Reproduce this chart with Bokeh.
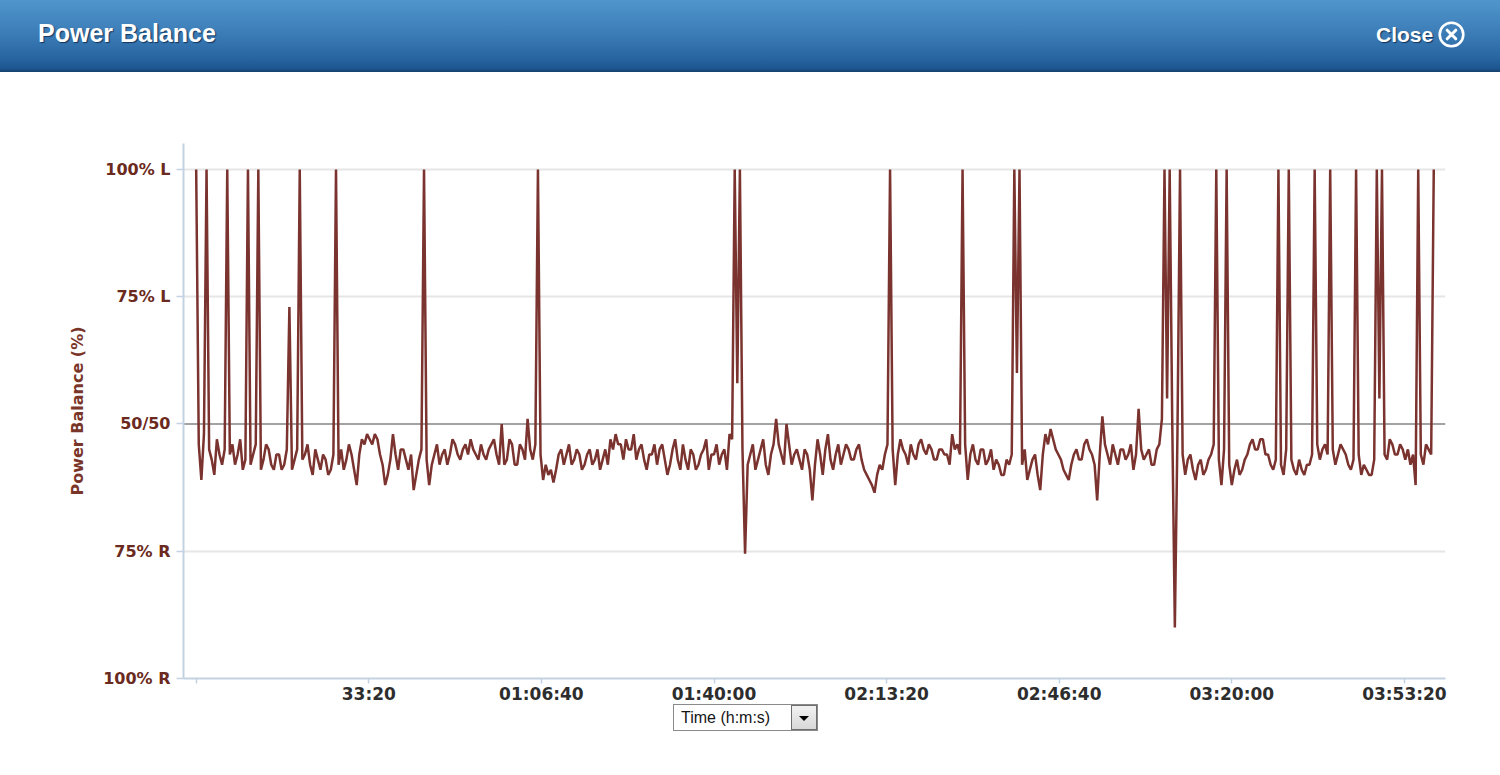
from bokeh.plotting import figure
from bokeh.layouts import column
from bokeh.models import Range1d, FixedTicker, Span, ColumnDataSource, Div
from bokeh.embed import file_html
from bokeh.resources import INLINE

# ---------------- data ----------------
sample_seconds = 30
# power balance expressed as % left (100 = 100% L, 50 = 50/50, 0 = 100% R)
balance_left_pct = [
    100, 46, 39, 48, 100, 45, 43, 40, 47, 44, 42, 45, 100, 44, 46, 42, 44, 47, 41, 43,
    100, 42, 44, 46, 100, 41, 43, 46, 45, 42, 41, 44, 44, 41, 42, 45, 73, 41, 43, 45,
    100, 43, 44, 46, 42, 40, 45, 43, 41, 44, 43, 40, 41, 44, 100, 42, 45, 41, 43, 46,
    44, 41, 38, 44, 47, 46, 48, 47, 46, 48, 47, 44, 42, 38, 40, 43, 48, 44, 41, 45,
    45, 43, 41, 44, 37, 40, 43, 45, 100, 43, 38, 42, 44, 46, 42, 44, 45, 42, 44, 47,
    46, 44, 43, 45, 46, 44, 47, 45, 44, 43, 46, 44, 43, 45, 46, 47, 44, 42, 50, 42,
    43, 47, 46, 42, 42, 46, 45, 43, 51, 45, 43, 46, 100, 44, 39, 42, 40, 41, 38.5, 41,
    44, 45, 42, 44, 46, 42, 43, 45, 44, 41, 42, 44, 45, 42, 43, 45, 41, 43, 45, 42,
    47, 45, 48, 46, 46, 43, 47, 45, 45, 48, 43, 45, 46, 43, 41, 44, 44, 46, 42, 45,
    46, 43, 40, 42, 45, 47, 43, 41, 46, 43, 41, 45, 44, 41, 42, 44, 45, 47, 41, 44,
    44, 46, 42, 44, 45, 41, 48, 47, 100, 58, 100, 45, 24.5, 42, 44, 46, 41, 43, 45, 47,
    42, 40, 44, 46, 51, 46, 44, 42, 50, 46, 42, 44, 45, 43, 41, 45, 44, 41, 35, 42,
    47, 44, 40, 45, 48, 43, 41, 44, 46, 42, 44, 46, 45, 43, 43, 45, 46, 43, 41, 40,
    39, 38, 36.5, 40, 42, 41, 44, 46, 100, 45, 38, 44, 47, 45, 44, 42, 46, 44, 43, 46,
    47, 45, 44, 46, 45, 43, 43, 45, 45, 44, 44, 42, 48, 45, 46, 44, 100, 46, 39, 44,
    46, 43, 42, 45, 45, 42, 43, 45, 41, 43, 42, 40, 40, 43, 42, 44, 100, 60, 100, 42,
    45, 39, 41, 43, 44, 40, 37, 44, 48, 46, 49, 47, 45, 44, 43, 41, 40, 39, 42, 44,
    45, 43, 43, 46, 47, 45, 44, 42, 35, 44, 51.5, 46, 44, 42, 46, 44, 42, 45, 45, 43,
    44, 46, 41, 44, 53, 45, 43, 44, 45, 42, 42, 45, 46, 51, 100, 55, 100, 50, 10, 48,
    100, 44, 40, 43, 44, 41, 39, 42, 43, 40, 41, 43, 44, 46, 100, 43, 38, 45, 100, 42,
    38, 41, 43, 40, 41, 43, 44, 46, 47, 45, 45, 47, 47, 44, 44, 42, 41, 43, 100, 42,
    40, 45, 100, 43, 41, 40, 43, 41, 40, 42, 42, 44, 100, 46, 43, 45, 46, 44, 100, 45,
    42, 44, 46, 45, 44, 42, 41, 43, 100, 44, 40, 42, 41, 40, 40, 43, 100, 55, 100, 44,
    43, 47, 46, 44, 44, 46, 45, 43, 45, 42, 44, 38, 100, 44, 42, 46, 45, 44, 100,
]
times = [i * sample_seconds for i in range(len(balance_left_pct))]

x_tick_values = [0, 2000, 4000, 6000, 8000, 10000, 12000, 14000]
x_tick_labels = ["", "33:20", "01:06:40", "01:40:00", "02:13:20",
                 "02:46:40", "03:20:00", "03:53:20"]
y_tick_values = [0, 25, 50, 75, 100]
y_tick_labels = ["100% R", "75% R", "50/50", "75% L", "100% L"]

title_text = "Power Balance"
close_text = "Close"
y_axis_title = "Power Balance (%)"
x_selector_text = "Time (h:m:s)"

W = 1500

# ---------------- header bar ----------------
header_html = f"""
<div style="position:relative;width:{W}px;height:72px;overflow:hidden;
 background:linear-gradient(to bottom,#5096cc 0%,#3f80ba 40%,#2866a2 80%,#1d5690 95%,#163f6c 100%);
 font-family:'Liberation Sans',Arial,sans-serif;font-weight:bold;color:#ffffff;">
  <span style="position:absolute;left:38px;top:21px;font-size:25px;line-height:25px;
   white-space:nowrap;text-shadow:1px 1px 1px rgba(12,40,78,0.85);">{title_text}</span>
  <span style="position:absolute;left:1376px;top:24px;font-size:21px;line-height:21px;
   white-space:nowrap;text-shadow:1px 1px 1px rgba(12,40,78,0.85);">{close_text}</span>
  <svg style="position:absolute;left:1438px;top:21px;" width="27" height="27">
    <circle cx="13.5" cy="13.5" r="11.8" fill="none" stroke="#ffffff" stroke-width="2.6"/>
    <path d="M9.2 9.2 L17.8 17.8 M17.8 9.2 L9.2 17.8" stroke="#ffffff" stroke-width="3"
     stroke-linecap="round"/>
  </svg>
</div>"""
header = Div(text=header_html, width=W, height=72, margin=0)

# ---------------- main chart ----------------
p = figure(width=W, height=635, x_range=Range1d(-147, 14476), y_range=Range1d(0, 105.1),
           output_backend="svg", toolbar_location=None, title=None,
           min_border_left=183, min_border_right=W - 1445, min_border_top=71,
           min_border_bottom=29)
p.outline_line_color = None
p.background_fill_color = "white"
p.border_fill_color = "white"

axis_col = "#c3d2e2"
p.xaxis.ticker = FixedTicker(ticks=x_tick_values)
p.xaxis.major_label_overrides = dict(zip(x_tick_values, x_tick_labels))
p.xaxis.major_label_text_font = "DejaVu Sans"
p.xaxis.major_label_text_font_style = "bold"
p.xaxis.major_label_text_font_size = "17px"
p.xaxis.major_label_text_color = "#2d2d2d"
p.xaxis.major_label_standoff = 0
p.xaxis.major_tick_out = 5
p.xaxis.major_tick_in = 0
p.xaxis.minor_tick_out = 0
p.xaxis.minor_tick_in = 0
p.xaxis.axis_line_color = axis_col
p.xaxis.axis_line_width = 2
p.xaxis.major_tick_line_color = axis_col
p.xaxis.major_tick_line_width = 1.5

p.yaxis.ticker = FixedTicker(ticks=y_tick_values)
p.yaxis.major_label_overrides = dict(zip(y_tick_values, y_tick_labels))
p.yaxis.major_label_text_font = "DejaVu Sans"
p.yaxis.major_label_text_font_style = "bold"
p.yaxis.major_label_text_font_size = "16px"
p.yaxis.major_label_text_color = "#6b2a20"
p.yaxis.major_label_standoff = 6
p.yaxis.major_tick_out = 7
p.yaxis.major_tick_in = 0
p.yaxis.minor_tick_out = 0
p.yaxis.minor_tick_in = 0
p.yaxis.axis_line_color = axis_col
p.yaxis.axis_line_width = 2
p.yaxis.major_tick_line_color = axis_col
p.yaxis.major_tick_line_width = 1.5
p.yaxis.axis_label = y_axis_title
p.yaxis.axis_label_text_font = "DejaVu Sans"
p.yaxis.axis_label_text_font_style = "bold"
p.yaxis.axis_label_text_font_size = "16px"
p.yaxis.axis_label_text_color = "#7a3529"
p.yaxis.axis_label_standoff = 13

p.xgrid.visible = False
p.ygrid.ticker = FixedTicker(ticks=[25, 75, 100])
p.ygrid.grid_line_color = "#e6e6e6"
p.ygrid.grid_line_width = 2

p.add_layout(Span(location=50, dimension="width", line_color="#858585",
                  line_width=1.5, level="underlay"))

src = ColumnDataSource(dict(t=times, v=balance_left_pct))
p.line("t", "v", source=src, line_color="#7a332e", line_width=2.5)

# ---------------- time unit selector ----------------
selector_html = f"""
<div style="position:relative;width:{W}px;height:56px;">
  <div style="position:absolute;left:673px;top:0px;width:145px;height:27px;box-sizing:border-box;
   border:1px solid #8a8a8a;background:#ffffff;"></div>
  <span style="position:absolute;left:681px;top:5px;font-family:'Liberation Sans',Arial,sans-serif;
   font-size:16px;line-height:17px;color:#151515;white-space:nowrap;">{x_selector_text}</span>
  <div style="position:absolute;left:791px;top:1px;width:26px;height:25px;box-sizing:border-box;
   border:1px solid #6e6e6e;background:linear-gradient(to bottom,#f2f2f2,#d8d8d8);"></div>
  <div style="position:absolute;left:799px;top:12px;width:0;height:0;
   border-left:5px solid transparent;border-right:5px solid transparent;
   border-top:5px solid #000000;"></div>
</div>"""
selector = Div(text=selector_html, width=W, height=56, margin=(-3, 0, 0, 0))

layout = column(header, p, selector, spacing=0)
open("out.html", "w").write(file_html(layout, INLINE))
